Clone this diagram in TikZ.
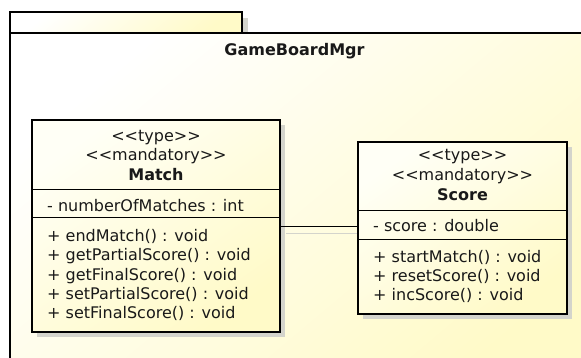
\documentclass[tikz,border=0pt]{standalone}
\usepackage{fontspec}
\setmainfont{DejaVu Sans}
\definecolor{yel}{RGB}{255,250,200}
\definecolor{paleyel}{RGB}{255,255,246}
\definecolor{shadowgrey}{RGB}{212,212,204}
\definecolor{txt}{RGB}{25,25,25}
\newcommand{\stOpen}{<\kern0pt<}
\newcommand{\stClose}{>\kern0pt>}
\tikzset{
  pkgshade/.style={top color=white, bottom color=yel, shading angle=40},
  classbox/.style={draw=black, line width=2.4pt, rectangle, inner sep=0pt,
    top color=paleyel, bottom color=yel, shading angle=35},
  boxshadow/.style={fill=shadowgrey, draw=none},
  cltext/.style={font=\fontsize{16}{19}\selectfont, text=txt, inner sep=0pt},
  clbold/.style={font=\fontsize{16}{19}\selectfont\bfseries},
  sepline/.style={draw=black, line width=1pt},
  assoc/.style={draw=black, line width=1pt},
  assocshadow/.style={draw=shadowgrey, line width=1pt}
}
\begin{document}
\begin{tikzpicture}[x=1pt,y=-1pt]
\useasboundingbox (0,0) rectangle (581,358);
\clip (0,0) rectangle (581,358);
\fill[white] (0,0) rectangle (581,358);
% package
\fill[shadowgrey] (242,18) rectangle (248,33);
\shade[pkgshade] (10,12) rectangle (242,33);
\draw[line width=2.2pt] (10,12) rectangle (242,33);
\shade[pkgshade] (10,33) rectangle (600,380);
\draw[line width=2.2pt] (10,380) -- (10,33) -- (600,33);
\node[cltext, clbold, anchor=base] (pkgname) at (294.5,55.3) {GameBoardMgr};
% shadows
\fill[boxshadow] (37,125) rectangle (285,337);
\fill[boxshadow] (363,147) rectangle (572,319);
% connector shadow
\draw[assocshadow] (286,234) -- (366,234);
% Match class
\node[classbox, minimum width=248pt, minimum height=212pt] (match) at (156,226) {};
\draw[sepline] (32,190) -- (280,190);
\draw[sepline] (32,218) -- (280,218);
\node[cltext, anchor=base] (mt1) at (156,141.3) {\stOpen type\stClose};
\node[cltext, anchor=base] (mt2) at (156,161) {\stOpen mandatory\stClose};
\node[cltext, clbold, anchor=base] (mt3) at (156,181) {Match};
\node[cltext, anchor=base west] (ma1) at (47,211.7) {- numberOfMatches : int};
\node[cltext, anchor=base west] (mo1) at (47,242) {+ endMatch() : void};
\node[cltext, anchor=base west] (mo2) at (47,261) {+ getPartialScore() : void};
\node[cltext, anchor=base west] (mo3) at (47,280) {+ getFinalScore() : void};
\node[cltext, anchor=base west] (mo4) at (47,299) {+ setPartialScore() : void};
\node[cltext, anchor=base west] (mo5) at (47,318) {+ setFinalScore() : void};
% Score class
\node[classbox, minimum width=209pt, minimum height=172pt] (score) at (462.5,228) {};
\draw[sepline] (358,211) -- (567,211);
\draw[sepline] (358,240) -- (567,240);
\node[cltext, anchor=base] (st1) at (462.5,160.7) {\stOpen type\stClose};
\node[cltext, anchor=base] (st2) at (462.5,180.7) {\stOpen mandatory\stClose};
\node[cltext, clbold, anchor=base] (st3) at (462.5,201) {Score};
\node[cltext, anchor=base west] (sa1) at (373,231.7) {- score : double};
\node[cltext, anchor=base west] (so1) at (373,262) {+ startMatch() : void};
\node[cltext, anchor=base west] (so2) at (373,281) {+ resetScore() : void};
\node[cltext, anchor=base west] (so3) at (373,300) {+ incScore() : void};
% association
\coordinate (aL) at (match.east |- 0,227);
\coordinate (aR) at (score.west |- 0,227);
\draw[assoc] (aL) -- (aR);
\end{tikzpicture}
\end{document}
